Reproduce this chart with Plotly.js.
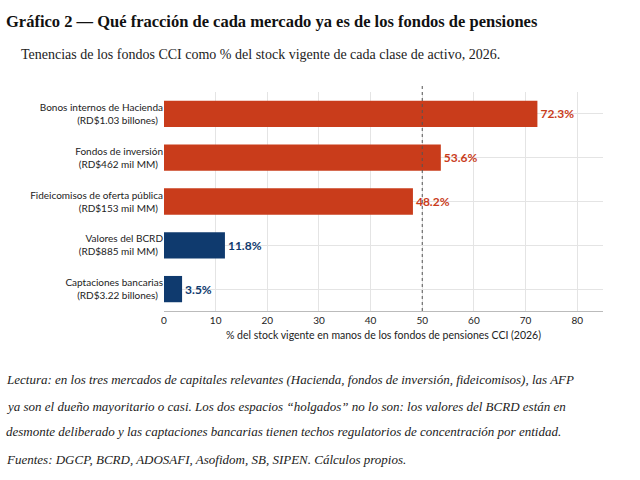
<html><head><script src="https://cdn.plot.ly/plotly-3.0.1.min.js"></script></head><body style="margin:0">
<div id="c" style="width:640px;height:480px"></div>
<script>
const categories=["Bonos internos de Hacienda<br>(RD$1.03 billones)","Fondos de inversión<br>(RD$462 mil MM)","Fideicomisos de oferta pública<br>(RD$153 mil MM)","Valores del BCRD<br>(RD$885 mil MM)","Captaciones bancarias<br>(RD$3.22 billones)"];
const values=[72.3,53.6,48.2,11.8,3.5];
const colors=["#c93c1b","#c93c1b","#c93c1b","#0f3a6e","#0f3a6e"];
const cats=categories.slice().reverse(), vals=values.slice().reverse(), cols=colors.slice().reverse();
const serif="Liberation Serif, DejaVu Serif, serif";
const sans="Lato, Liberation Sans, sans-serif";
const lect=["Lectura: en los tres mercados de capitales relevantes (Hacienda, fondos de inversión, fideicomisos), las AFP",
"ya son el dueño mayoritario o casi. Los dos espacios “holgados” no lo son: los valores del BCRD están en",
"desmonte deliberado y las captaciones bancarias tienen techos regulatorios de concentración por entidad.",
"Fuentes: DGCP, BCRD, ADOSAFI, Asofidom, SB, SIPEN. Cálculos propios."];
const ly=[-0.315,-0.434,-0.548,-0.676];
const ann=[
 {xref:'paper',yref:'paper',x:-0.3645,y:1.374,xanchor:'left',yanchor:'top',showarrow:false,text:'<b>Gráfico 2 — Qué fracción de cada mercado ya es de los fondos de pensiones</b>',font:{family:serif,size:16.5,color:'#111'}},
 {xref:'paper',yref:'paper',x:-0.33,y:1.215,xanchor:'left',yanchor:'top',showarrow:false,text:'Tenencias de los fondos CCI como % del stock vigente de cada clase de activo, 2026.',font:{family:serif,size:14,color:'#222'}}];
lect.forEach((t,i)=>ann.push({xref:'paper',yref:'paper',x:-0.3645,y:ly[i],xanchor:'left',yanchor:'middle',showarrow:false,text:'<i>'+t+'</i>',font:{family:serif,size:13,color:'#222'}}));
Plotly.newPlot('c',[{type:'bar',orientation:'h',y:cats,x:vals,marker:{color:cols},width:0.6,
 text:vals.map(v=>v.toFixed(1)+'%'),textposition:'outside',cliponaxis:false,
 textfont:{family:sans,size:12,color:cols,weight:'bold'},hoverinfo:'none'}],
{width:640,height:480,margin:{l:164,r:37,t:92,b:169},paper_bgcolor:'#fff',plot_bgcolor:'#fff',showlegend:false,
 font:{family:sans,size:10,color:'#222'},
 xaxis:{range:[0,85],tickvals:[0,10,20,30,40,50,60,70,80],showgrid:true,gridcolor:'#e4e4e4',zeroline:false,showline:true,linecolor:'#bbb',ticks:'',
  title:{text:'% del stock vigente en manos de los fondos de pensiones CCI (2026)',font:{size:10.5},standoff:6}},
 yaxis:{showgrid:true,gridcolor:'#e4e4e4',ticks:'',ticksuffix:'  ',tickfont:{size:10}},
 shapes:[{type:'line',xref:'x',yref:'paper',x0:50,x1:50,y0:0,y1:1.04,line:{color:'#555',width:1,dash:'dot'}}],
 annotations:ann},{staticPlot:true});
</script></body></html>
